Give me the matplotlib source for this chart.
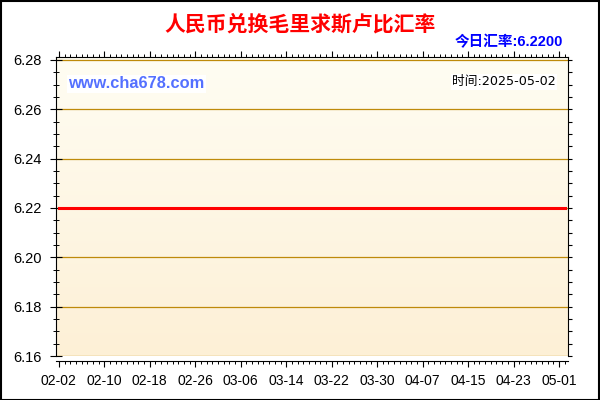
import numpy as np
import pandas as pd
import matplotlib
matplotlib.use("Agg")
import matplotlib.pyplot as plt
import matplotlib.dates as mdates
from matplotlib.colors import LinearSegmentedColormap
from matplotlib.patches import Rectangle

plt.rcParams['font.family'] = ['Liberation Sans', 'Noto Sans CJK SC', 'DejaVu Sans']

# 数据
title = "人民币兑换毛里求斯卢比汇率"
today_label = "今日汇率:6.2200"
site = "www.cha678.com"
time_label = "时间:2025-05-02"
dates = ["2025-02-02", "2025-02-10", "2025-02-18", "2025-02-26", "2025-03-06",
         "2025-03-14", "2025-03-22", "2025-03-30", "2025-04-07", "2025-04-15",
         "2025-04-23", "2025-05-01", "2025-05-02"]
rates = [6.22, 6.22, 6.22, 6.22, 6.22, 6.22, 6.22, 6.22, 6.22, 6.22, 6.22, 6.22, 6.22]
y_ticks = [6.16, 6.18, 6.20, 6.22, 6.24, 6.26, 6.28]

dates = pd.to_datetime(dates)

fig = plt.figure(figsize=(6, 4), dpi=100)
ax = fig.add_axes([56 / 600, 1 - 356 / 400, 512 / 600, 299 / 400])

# 背景渐变
cmap = LinearSegmentedColormap.from_list("bg", ["#FDF0D6", "#FFFDF3"])
grad = np.linspace(0, 1, 256).reshape(-1, 1)
ax.imshow(grad, cmap=cmap, aspect='auto', extent=[0, 1, 0, 1],
          transform=ax.transAxes, origin='lower', zorder=0)

# 网格线
for y in y_ticks:
    ax.axhline(y, color='#BE8A0A', lw=0.9, zorder=1)

ax.plot(dates, rates, color='#FF0000', lw=2.2, zorder=3)

ax.set_ylim(6.16, 6.2812)
ax.set_xlim(pd.Timestamp("2025-02-02") - pd.Timedelta(hours=12),
            pd.Timestamp("2025-05-02") + pd.Timedelta(hours=14))

ax.set_yticks(y_ticks)
ax.set_yticklabels([f"{v:.2f}" for v in y_ticks])
ax.yaxis.set_minor_locator(matplotlib.ticker.MultipleLocator(0.005))
ticks = pd.date_range("2025-02-02", "2025-05-01", freq="8D")
ax.set_xticks(ticks)
ax.set_xticklabels([d.strftime("%m-%d") for d in ticks])
ax.xaxis.set_minor_locator(mdates.DayLocator())

ax.spines['bottom'].set_position(('outward', 3.3))
for s in ax.spines.values():
    s.set_linewidth(0.8)
    s.set_color('black')

ax.tick_params(axis='x', which='major', direction='out', length=4.5, width=0.8,
               labelsize=10, pad=5, top=True)
ax.tick_params(axis='x', which='minor', direction='out', length=2.5, width=0.7, top=True)
ax.tick_params(axis='y', which='major', direction='inout', length=8, width=0.8,
               labelsize=10.5, pad=6)
ax.tick_params(axis='y', which='minor', direction='inout', length=4.5, width=0.7)

# 右侧刻度(朝外)
ax2 = ax.twinx()
ax2.set_ylim(ax.get_ylim())
ax2.set_yticks(y_ticks)
ax2.yaxis.set_minor_locator(matplotlib.ticker.MultipleLocator(0.005))
ax2.tick_params(axis='y', which='both', direction='out', length=3, width=0.8,
                labelright=False)
for s in ax2.spines.values():
    s.set_visible(False)

# 文字
fig.text(0.5, 1 - 24 / 400, title, color='#FF0000', fontsize=15, fontweight='bold',
         ha='center', va='center')
fig.text(563 / 600, 1 - 42 / 400, today_label, color='#0000FF', fontsize=10.5,
         fontweight='bold', ha='right', va='center')
fig.text(68 / 600, 1 - 84 / 400, site, color='#5470FF', fontsize=11.8, fontweight='bold',
         ha='left', va='center',
         bbox=dict(facecolor='white', edgecolor='none', pad=1))
fig.text(556 / 600, 1 - 82 / 400, time_label, color='black', fontsize=9.2,
         family=['DejaVu Sans', 'Noto Sans CJK SC'], ha='right', va='center',
         bbox=dict(facecolor='white', edgecolor='none', pad=1))

# 外框
fig.patches.append(Rectangle((0.001, 0.001), 0.997, 0.996, transform=fig.transFigure,
                             fill=False, edgecolor='black', lw=1.5))

fig.savefig("out.png", dpi=100)
